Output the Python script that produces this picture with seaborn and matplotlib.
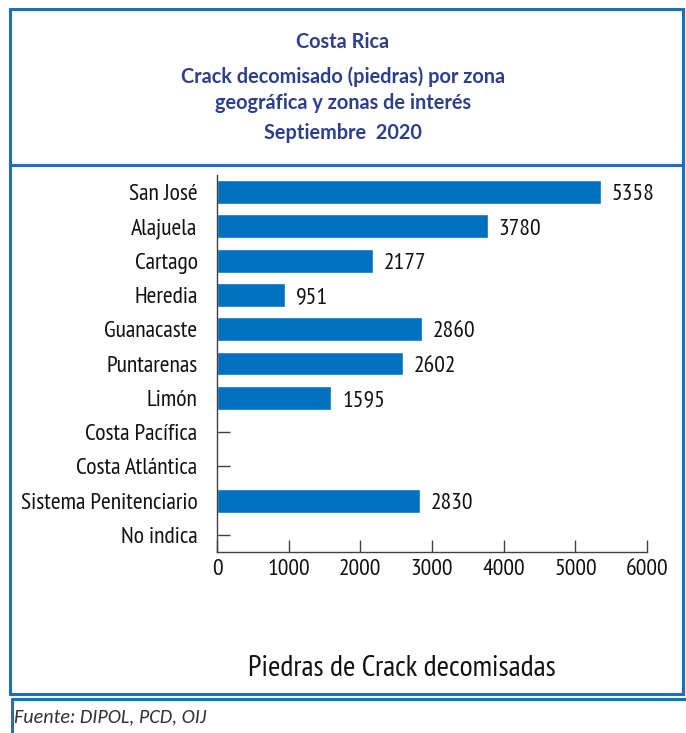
import matplotlib
matplotlib.use("Agg")
import matplotlib.pyplot as plt
import seaborn as sns
import pandas as pd
from matplotlib import font_manager
from matplotlib.patches import Rectangle
from matplotlib.lines import Line2D

categories = ["San José", "Alajuela", "Cartago", "Heredia", "Guanacaste", "Puntarenas",
              "Limón", "Costa Pacífica", "Costa Atlántica", "Sistema Penitenciario", "No indica"]
values = [5358, 3780, 2177, 951, 2860, 2602, 1595, 0, 0, 2830, 0]
xticks = [0, 1000, 2000, 3000, 4000, 5000, 6000]

sns.set_theme(style="white")
names = {f.name for f in font_manager.fontManager.ttflist}
narrow = "PT Sans Narrow" if "PT Sans Narrow" in names else "DejaVu Sans"
plt.rcParams["font.family"] = [narrow, "DejaVu Sans"]
footfam = ["Carlito", "Open Sans", "DejaVu Sans"] if "Carlito" in names else ["Open Sans", "DejaVu Sans"]

W, H = 686, 733
fig = plt.figure(figsize=(W / 100, H / 100), dpi=100)

def fx(px):
    return px / W

def fy(py):
    return 1 - py / H

blue_border = "#1f6fb4"
title_col = "#2b3f8e"
bar_col = "#0070C0"

ax = fig.add_axes([fx(217), fy(552), fx(647) - fx(217), fy(175) - fy(552)])
df = pd.DataFrame({"cat": categories, "val": values})
sns.barplot(data=df, x="val", y="cat", orient="h", color=bar_col, width=0.7,
            saturation=1, ax=ax)
ax.set_xlim(0, 6000)
ax.set_ylim(len(categories) - 0.5, -0.5)
ax.set_xticks(xticks)
ax.set_xticklabels([str(t) for t in xticks])
ax.set_xlabel("")
ax.set_ylabel("")
for s in ["top", "right"]:
    ax.spines[s].set_visible(False)
for s in ["left", "bottom"]:
    ax.spines[s].set_color("#404040")
    ax.spines[s].set_linewidth(1.0)
ax.tick_params(axis="both", direction="in", length=9, width=1.0, color="#404040",
               labelsize=17, labelcolor="#111111", left=True, bottom=True)
ax.tick_params(axis="y", pad=14)
ax.tick_params(axis="x", pad=5)
for i, v in enumerate(values):
    if v > 0:
        ax.text(v + 150, i + 0.08, str(v), va="center", ha="left", fontsize=17, color="#111111")

# title
tfam = ["Lato", "DejaVu Sans"]
tsize = 14.3
fig.text(0.5, fy(42), "Costa Rica", ha="center", va="center", fontsize=tsize,
         fontweight="bold", color=title_col, family=tfam)
fig.text(0.5, fy(77), "Crack decomisado (piedras) por zona", ha="center", va="center",
         fontsize=tsize, fontweight="bold", color=title_col, family=tfam)
fig.text(0.5, fy(103), "geográfica y zonas de interés", ha="center", va="center",
         fontsize=tsize, fontweight="bold", color=title_col, family=tfam)
fig.text(0.5, fy(133), "Septiembre  2020", ha="center", va="center", fontsize=tsize,
         fontweight="bold", color=title_col, family=tfam)

# x label
fig.text(fx(402), fy(668), "Piedras de Crack decomisadas", ha="center", va="center",
         fontsize=21.5, color="#111111")

# footer
fig.text(fx(14), fy(717), "Fuente: DIPOL, PCD, OIJ", ha="left", va="center",
         fontsize=14.5, style="italic", color="#333333", family=footfam)

# borders
fig.patches.append(Rectangle((fx(10), fy(694)), fx(683) - fx(10), fy(9) - fy(694),
                             transform=fig.transFigure, fill=False, edgecolor=blue_border,
                             linewidth=2.2, zorder=5))
fig.lines.append(Line2D([fx(10), fx(683)], [fy(165), fy(165)], transform=fig.transFigure,
                        color=blue_border, linewidth=2.2))
fig.lines.append(Line2D([fx(12), fx(686)], [fy(699), fy(699)], transform=fig.transFigure,
                        color=blue_border, linewidth=2.2))
fig.lines.append(Line2D([fx(12), fx(12)], [fy(699), fy(733)], transform=fig.transFigure,
                        color=blue_border, linewidth=2.2))

fig.savefig("out.png", dpi=100)
